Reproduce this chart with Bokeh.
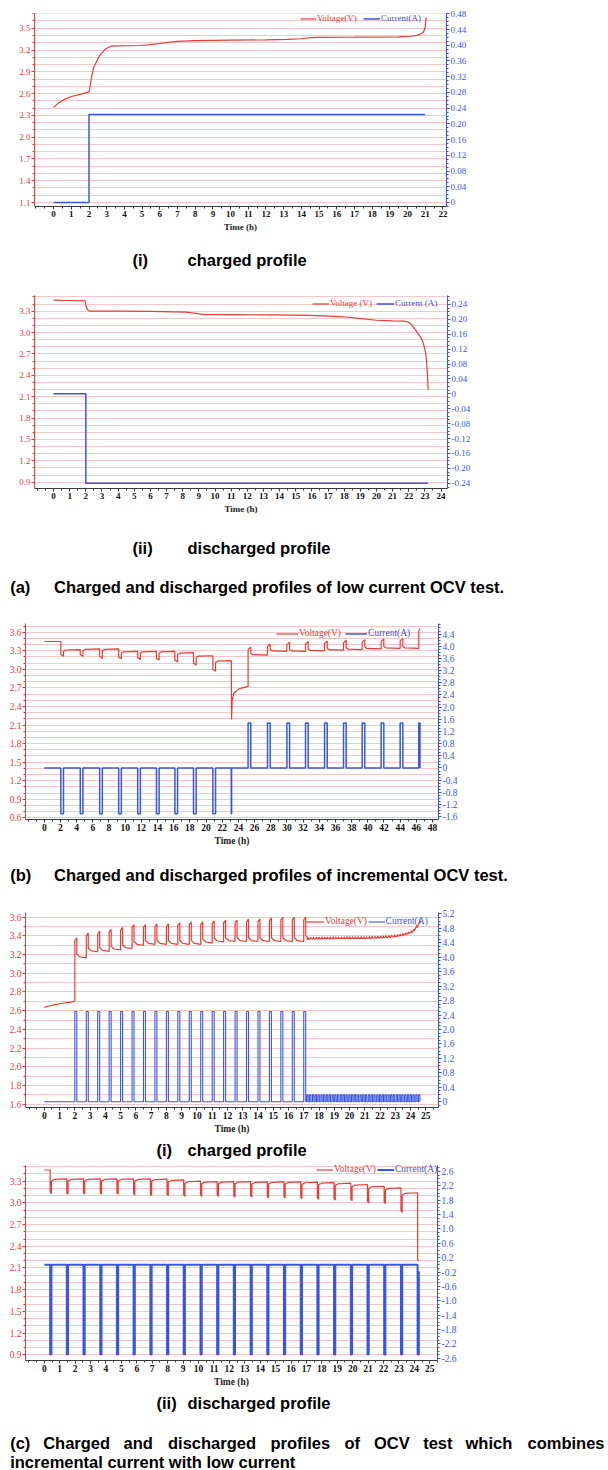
import numpy as np
from bokeh.plotting import figure
from bokeh.models import (Range1d, LinearAxis, FixedTicker, CustomJSTickFormatter,
                          Legend, LegendItem)
from bokeh.layouts import column
from bokeh.core.properties import value
from bokeh.embed import file_html
from bokeh.resources import INLINE

RED = "#e63c38"
BLUE = "#3a55e4"
GRID = "#f4c8c8"
SERIF = "Liberation Serif"
SANS = "Liberation Sans"

# ======================= DATA =======================
# (a)(i) low current OCV test - charge
a1_volt_t = [0.0, 0.3, 0.6, 1.0, 1.5, 2.0, 2.04, 2.1, 2.26, 2.59, 2.91, 3.24, 3.6, 4.9, 5.5,
             6.0, 6.5, 7.0, 8.0, 10.0, 12.0, 13.2, 14.0, 14.5, 15.0, 17.0, 19.5, 20.2, 20.6,
             20.9, 21.0, 21.05]
a1_volt = [2.41, 2.475, 2.52, 2.56, 2.59, 2.623, 2.66, 2.77, 2.96, 3.12, 3.21, 3.255, 3.258,
           3.262, 3.275, 3.29, 3.305, 3.32, 3.33, 3.335, 3.34, 3.348, 3.355, 3.372, 3.375,
           3.378, 3.382, 3.39, 3.405, 3.445, 3.52, 3.65]
a1_cur_t = [0.0, 2.0, 2.0, 21.0]
a1_cur = [0.0, 0.0, 0.224, 0.224]
a1_x_ticks = list(range(0, 23))
a1_v_ticks = [1.1, 1.4, 1.7, 2.0, 2.3, 2.6, 2.9, 3.2, 3.5]
a1_i_ticks = [0, 0.04, 0.08, 0.12, 0.16, 0.20, 0.24, 0.28, 0.32, 0.36, 0.40, 0.44, 0.48]

# (a)(ii) low current OCV test - discharge
a2_volt_t = [0.0, 1.0, 1.95, 2.04, 2.15, 2.28, 4.0, 6.0, 8.2, 8.8, 9.2, 11.1, 13.5, 15.9,
             17.4, 18.3, 19.05, 20.0, 21.0, 21.7, 22.0, 22.2, 22.5, 22.75, 22.9, 23.06,
             23.15, 23.2]
a2_volt = [3.455, 3.45, 3.445, 3.345, 3.31, 3.30, 3.30, 3.298, 3.286, 3.27, 3.255, 3.252,
           3.248, 3.24, 3.227, 3.215, 3.195, 3.173, 3.165, 3.16, 3.145, 3.105, 3.01, 2.93,
           2.855, 2.7, 2.45, 2.197]
a2_cur_t = [0.0, 2.0, 2.0, 23.2]
a2_cur = [0.0, 0.0, -0.24, -0.24]
a2_x_ticks = list(range(0, 25))
a2_v_ticks = [0.9, 1.2, 1.5, 1.8, 2.1, 2.4, 2.7, 3.0, 3.3]
a2_i_ticks = [-0.24, -0.20, -0.16, -0.12, -0.08, -0.04, 0, 0.04, 0.08, 0.12, 0.16, 0.20, 0.24]

# (b) incremental OCV test
b_v_start = 3.45
b_dis_start = [2.05, 4.45, 6.85, 9.2, 11.55, 13.87, 16.15, 18.45, 20.85]
b_dis_end = [2.38, 4.78, 7.18, 9.53, 11.88, 14.2, 16.48, 18.78, 21.18]
b_dis_min = [3.21, 3.21, 3.18, 3.17, 3.16, 3.15, 3.12, 3.07, 2.97]
b_dis_rest = [3.32, 3.33, 3.33, 3.29, 3.29, 3.29, 3.27, 3.22, 3.14]
b_cut_t = [23.12, 23.16, 23.23, 23.43, 24.05, 25.08, 25.2]
b_cut_v = [3.14, 2.19, 2.5, 2.61, 2.685, 2.72, 2.72]
b_cut_pulse = [23.12, 23.16]
b_chg_start = [25.2, 27.6, 30.0, 32.3, 34.65, 37.0, 39.3, 41.65, 44.0, 46.3]
b_chg_end = [25.53, 27.93, 30.33, 32.63, 34.98, 37.33, 39.63, 41.98, 44.33, 46.45]
b_chg_peak = [3.36, 3.41, 3.44, 3.45, 3.46, 3.47, 3.48, 3.49, 3.50, 3.66]
b_chg_rest = [3.23, 3.29, 3.29, 3.30, 3.31, 3.32, 3.33, 3.34, 3.34]
b_dis_current = -1.5
b_chg_current = 1.48
b_x_ticks = list(range(0, 49, 2))
b_v_ticks = [0.6, 0.9, 1.2, 1.5, 1.8, 2.1, 2.4, 2.7, 3.0, 3.3, 3.6]
b_i_ticks = [-1.6, -1.2, -0.8, -0.4, 0, 0.4, 0.8, 1.2, 1.6, 2.0, 2.4, 2.8, 3.2, 3.6, 4.0, 4.4]

# (c)(i) combined OCV test - charge
c1_pre_t = [0.0, 0.3, 0.7, 1.2, 1.6, 2.0]
c1_pre_v = [2.635, 2.65, 2.665, 2.68, 2.69, 2.70]
c1_hi_start = [2.0, 2.75, 3.5, 4.25, 5.0, 5.75, 6.5, 7.25, 8.0, 8.75, 9.5, 10.25, 11.0,
               11.75, 12.5, 13.25, 14.0, 14.75, 15.5, 16.25, 17.0]
c1_hi_width = 0.13
c1_hi_peak = [3.38, 3.43, 3.45, 3.47, 3.49, 3.52, 3.52, 3.53, 3.53, 3.54, 3.55, 3.55, 3.56,
              3.57, 3.57, 3.58, 3.58, 3.59, 3.60, 3.60, 3.60]
c1_hi_rest = [3.165, 3.23, 3.235, 3.25, 3.265, 3.30, 3.31, 3.31, 3.31, 3.31, 3.31, 3.325,
              3.335, 3.34, 3.34, 3.34, 3.34, 3.34, 3.34, 3.34, 3.36]
c1_hi_current = 2.5
c1_lo_start = [17.2, 17.38, 17.57, 17.75, 17.93, 18.12, 18.3, 18.48, 18.66, 18.85, 19.03,
               19.21, 19.4, 19.58, 19.76, 19.95, 20.13, 20.31, 20.49, 20.68, 20.86, 21.04,
               21.23, 21.41, 21.59, 21.78, 21.96, 22.14, 22.32, 22.51, 22.69, 22.87, 23.06,
               23.24, 23.42, 23.61, 23.79, 23.97, 24.15, 24.34, 24.52]
c1_lo_v = [3.362, 3.364, 3.365, 3.366, 3.366, 3.367, 3.367, 3.368, 3.368, 3.368, 3.369,
           3.369, 3.369, 3.369, 3.37, 3.37, 3.37, 3.37, 3.37, 3.37, 3.37, 3.371, 3.372,
           3.373, 3.374, 3.375, 3.376, 3.378, 3.38, 3.382, 3.385, 3.388, 3.392, 3.397,
           3.403, 3.41, 3.42, 3.432, 3.45, 3.485, 3.53]
c1_lo_width = 0.09
c1_lo_tooth = 0.022
c1_lo_current = 0.19
c1_end = [24.58, 3.58]
c1_x_ticks = list(range(0, 26))
c1_v_ticks = [1.6, 1.8, 2.0, 2.2, 2.4, 2.6, 2.8, 3.0, 3.2, 3.4, 3.6]
c1_i_ticks = [0, 0.4, 0.8, 1.2, 1.6, 2.0, 2.4, 2.8, 3.2, 3.6, 4.0, 4.4, 4.8, 5.2]

# (c)(ii) combined OCV test - discharge
c2_v_start = 3.455
c2_start = [0.38, 1.46, 2.54, 3.63, 4.71, 5.79, 6.88, 7.96, 9.04, 10.13, 11.21, 12.29,
            13.38, 14.46, 15.54, 16.63, 17.71, 18.79, 19.88, 20.96, 22.04, 23.13, 24.21]
c2_width = 0.08
c2_min = [3.13, 3.12, 3.12, 3.12, 3.12, 3.11, 3.10, 3.10, 3.09, 3.09, 3.09, 3.08, 3.08,
          3.07, 3.07, 3.06, 3.05, 3.04, 3.03, 3.00, 2.99, 2.87, 2.20]
c2_rest = [3.332, 3.332, 3.332, 3.332, 3.332, 3.332, 3.33, 3.318, 3.30, 3.295, 3.295, 3.295,
           3.29, 3.29, 3.29, 3.286, 3.28, 3.272, 3.254, 3.23, 3.208, 3.14]
c2_current = -2.5
c2_end_current = -0.2
c2_x_ticks = list(range(0, 26))
c2_v_ticks = [0.9, 1.2, 1.5, 1.8, 2.1, 2.4, 2.7, 3.0, 3.3]
c2_i_ticks = [-2.6, -2.2, -1.8, -1.4, -1.0, -0.6, -0.2, 0.2, 0.6, 1.0, 1.4, 1.8, 2.2, 2.6]

# captions
cap_a1 = ["(i)", "charged profile"]
cap_a2 = ["(ii)", "discharged profile"]
cap_a = ["(a)", "Charged and discharged profiles of low current OCV test."]
cap_b = ["(b)", "Charged and discharged profiles of incremental OCV test."]
cap_c1 = ["(i)", "charged profile"]
cap_c2 = ["(ii)", "discharged profile"]
cap_c_line1 = ["(c)", "Charged", "and", "discharged", "profiles", "of", "OCV", "test",
               "which", "combines"]
cap_c_line2 = "incremental current with low current"


# ======================= helpers =======================
def pulse_path(t0, v0, starts, ends, extremes, rests, sign, jin, jout, relax):
    t, v = ([t0], [v0]) if t0 is not None else ([], [])
    prev = v0
    for k in range(len(starts)):
        t += [starts[k], starts[k], ends[k]]
        v += [prev, extremes[k] - sign * jin, extremes[k]]
        if k < len(rests):
            t += [ends[k], ends[k] + relax]
            v += [rests[k] + sign * jout, rests[k] + sign * jout * 0.25]
            prev = rests[k]
    return t, v


def rect_path(starts, ends, level):
    t, i = [], []
    for s, e in zip(starts, ends):
        t += [s, s, e, e]
        i += [0.0, level, level, 0.0]
    return t, i


def minors(lo, hi, step):
    k0 = int(np.ceil(lo / step - 1e-9))
    k1 = int(np.floor(hi / step + 1e-9))
    return [round(k * step, 6) for k in range(k0, k1 + 1)]


def style_axis(ax, color, label_color, fs, bold=False):
    ax.axis_line_color = color
    ax.major_tick_line_color = color
    ax.minor_tick_line_color = color
    ax.major_label_text_color = label_color
    ax.major_label_text_font = SERIF
    ax.major_label_text_font_size = fs
    ax.major_label_text_font_style = "bold" if bold else "normal"
    ax.major_tick_out = 3
    ax.major_tick_in = 0
    ax.minor_tick_out = 2
    ax.minor_tick_in = 0
    ax.major_label_standoff = 1


def add_leg(p, r, label, color, x, y, gw, fs):
    leg = Legend(items=[LegendItem(label=label, renderers=[r])], location=(x, y),
                 orientation="horizontal", padding=0, margin=0, spacing=0,
                 glyph_width=gw, glyph_height=11, label_height=11, label_width=10,
                 label_standoff=1, border_line_color=None, background_fill_alpha=0,
                 label_text_font=SERIF, label_text_font_size=fs, label_text_color=color,
                 label_text_baseline="middle")
    p.add_layout(leg)


def chart(h, L, fw, T, B, xr, vr, ir, xt, xstep, vt, vstep, it, istep, idec,
          vt_x, vt_y, it_x, it_y, legs, fs, cur_lw=1.5):
    p = figure(width=608, height=h, x_range=Range1d(*xr), y_range=Range1d(*vr),
               output_backend="svg", toolbar_location=None, title=None,
               min_border_left=L, min_border_right=608 - L - fw,
               min_border_top=T, min_border_bottom=B, outline_line_color=None)
    p.frame_align = False
    p.extra_y_ranges = {"cur": Range1d(*ir)}
    rv = p.line(vt_x, vt_y, line_color=RED, line_width=1.2)
    ri = p.line(it_x, it_y, line_color=BLUE, line_width=cur_lw, y_range_name="cur")

    # x axis
    xa = p.below[0]
    xa.ticker = FixedTicker(ticks=xt, minor_ticks=minors(xr[0], xr[1], xstep))
    xa.formatter = CustomJSTickFormatter(code="return tick.toFixed(0);")
    style_axis(xa, "#3a3a3a", "#111111", fs, bold=True)
    xa.axis_label = "Time (h)"
    xa.axis_label_text_font = SERIF
    xa.axis_label_text_font_size = fs
    xa.axis_label_text_font_style = "bold"
    xa.axis_label_text_color = "#222222"
    xa.axis_label_standoff = 2

    # left axis
    ya = p.left[0]
    vtk = FixedTicker(ticks=vt, minor_ticks=minors(vr[0], vr[1], vstep))
    ya.ticker = vtk
    ya.formatter = CustomJSTickFormatter(code="return tick.toFixed(1);")
    style_axis(ya, RED, RED, fs)

    # right axis
    ra = LinearAxis(y_range_name="cur")
    ra.ticker = FixedTicker(ticks=it, minor_ticks=minors(ir[0], ir[1], istep))
    ra.formatter = CustomJSTickFormatter(
        code="return Math.abs(tick) < 1e-9 ? '0' : tick.toFixed(%d);" % idec)
    style_axis(ra, BLUE, BLUE, fs)
    p.add_layout(ra, "right")

    # grid
    p.xgrid.visible = False
    p.ygrid.ticker = vtk
    p.ygrid.grid_line_color = GRID
    p.ygrid.minor_grid_line_color = GRID
    p.ygrid.grid_line_width = 1
    p.ygrid.minor_grid_line_width = 1

    (vl, vx, vy, vgw), (il, ix, iy, igw) = legs
    add_leg(p, rv, vl, RED, vx, vy, vgw, fs)
    add_leg(p, ri, il, BLUE, ix, iy, igw, fs)
    return p


def caption(h, items):
    p = figure(width=608, height=h, x_range=Range1d(0, 608), y_range=Range1d(h, 0),
               min_border=0, min_border_left=0, min_border_right=0, min_border_top=0,
               min_border_bottom=0, x_axis_type=None, y_axis_type=None,
               output_backend="svg", toolbar_location=None, outline_line_color=None,
               title=None)
    p.frame_align = False
    xs = [it[0] for it in items]
    ys = [it[1] for it in items]
    ts = [it[2] for it in items]
    p.text(x=xs, y=ys, text=ts, text_font=value(SANS), text_font_style="bold",
           text_font_size="16.5px", text_baseline="middle", text_align="left",
           text_color="#000000")
    return p


# ======================= build series =======================
# (b)
b_vt, b_vv = pulse_path(0.0, b_v_start, b_dis_start, b_dis_end, b_dis_min, b_dis_rest,
                        -1, 0.03, 0.03, 0.25)
b_vt += b_cut_t
b_vv += b_cut_v
t2, v2 = pulse_path(None, b_cut_v[-1], b_chg_start, b_chg_end, b_chg_peak, b_chg_rest,
                    1, 0.04, 0.03, 0.25)
b_vt += t2
b_vv += v2
b_it, b_ii = [0.0], [0.0]
t_, i_ = rect_path(b_dis_start + [b_cut_pulse[0]], b_dis_end + [b_cut_pulse[1]], b_dis_current)
b_it += t_
b_ii += i_
t_, i_ = rect_path(b_chg_start, b_chg_end, b_chg_current)
b_it += t_
b_ii += i_

# (c)(i)
c1_hi_end = [s + c1_hi_width for s in c1_hi_start]
c1_vt, c1_vv = list(c1_pre_t), list(c1_pre_v)
t_, v_ = pulse_path(None, c1_pre_v[-1], c1_hi_start, c1_hi_end, c1_hi_peak, c1_hi_rest,
                    1, 0.03, 0.04, 0.2)
c1_vt += t_
c1_vv += v_
for s, base in zip(c1_lo_start, c1_lo_v):
    c1_vt += [s, s + c1_lo_width, s + c1_lo_width + 0.01]
    c1_vv += [base, base + c1_lo_tooth, base + 0.004]
c1_vt.append(c1_end[0])
c1_vv.append(c1_end[1])
c1_lo_end = [s + c1_lo_width for s in c1_lo_start]
c1_it, c1_ii = [0.0], [0.0]
t_, i_ = rect_path(c1_hi_start, c1_hi_end, c1_hi_current)
c1_it += t_
c1_ii += i_
t_, i_ = rect_path(c1_lo_start, c1_lo_end, c1_lo_current)
c1_it += t_
c1_ii += i_

# (c)(ii)
c2_end = [s + c2_width for s in c2_start]
c2_vt, c2_vv = pulse_path(0.0, c2_v_start, c2_start, c2_end, c2_min, c2_rest,
                          -1, 0.02, 0.03, 0.2)
c2_it, c2_ii = [0.0], [0.0]
t_, i_ = rect_path(c2_start, c2_end, c2_current)
c2_it += t_
c2_ii += i_
c2_ii[-1] = c2_end_current
c2_it.append(c2_end[-1] + 0.04)
c2_ii.append(c2_end_current)

# ======================= figures =======================
p1 = chart(240, 34, 412, 13, 34, (-1.08, 22.2), (1.045, 3.703), (-0.0102, 0.4808),
           a1_x_ticks, 0.5, a1_v_ticks, 0.1, a1_i_ticks, 0.01, 2,
           a1_volt_t, a1_volt, a1_cur_t, a1_cur,
           (("Voltage(V)", 266, 182.2, 16), ("Current(A)", 329, 182.2, 17)), "9px")
k1 = caption(42, [(132, 19.3, cap_a1[0]), (187, 19.3, cap_a1[1])])

p2 = chart(240, 34, 413, 13, 34, (-1.18, 24.4), (0.812, 3.52), (-0.254, 0.264),
           a2_x_ticks, 0.5, a2_v_ticks, 0.1, a2_i_ticks, 0.01, 2,
           a2_volt_t, a2_volt, a2_cur_t, a2_cur,
           (("Voltage (V)", 278, 179.5, 17), ("Current (A)", 342, 179.5, 18)), "9px")
k2 = caption(80, [(132, 25.3, cap_a2[0]), (187, 25.3, cap_a2[1]),
                  (9.7, 64.7, cap_a[0]), (53.5, 64.7, cap_a[1])])

p3 = chart(250, 25, 413, 21, 33, (-2.32, 48.74), (0.573, 3.741), (-1.692, 4.747),
           b_x_ticks, 1.0, b_v_ticks, 0.1, b_i_ticks, 0.1, 1,
           b_vt, b_vv, b_it, b_ii,
           (("Voltage(V)", 251, 180.2, 22), ("Current(A)", 320, 180.2, 22)), "9.5px")
k3 = caption(40, [(9.7, 22.5, cap_b[0]), (53.5, 22.5, cap_b[1])])

p4 = chart(246, 25, 413, 20, 31, (-1.232, 25.83), (1.565, 3.650), (-0.158, 5.237),
           c1_x_ticks, 0.5, c1_v_ticks, 0.1, c1_i_ticks, 0.1, 1,
           c1_vt, c1_vv, c1_it, c1_ii,
           (("Voltage(V)", 281, 180.5, 18), ("Current(A)", 342.6, 180.5, 17)), "9.5px",
           cur_lw=1.1)
k4 = caption(22, [(156, 11.3, cap_c1[0]), (187, 11.3, cap_c1[1])])

p5 = chart(234, 25, 412, 5, 34, (-1.219, 25.5), (0.821, 3.517), (-2.664, 2.767),
           c2_x_ticks, 0.5, c2_v_ticks, 0.1, c2_i_ticks, 0.1, 1,
           c2_vt, c2_vv, c2_it, c2_ii,
           (("Voltage(V)", 291, 185.2, 17), ("Current(A)", 352, 185.2, 17)), "9.5px",
           cur_lw=2.0)
word_x = [9.7, 42.7, 123, 167.5, 270, 344, 373.5, 422.7, 465, 527]
items5 = [(156, 8.7, cap_c2[0]), (187, 8.7, cap_c2[1])]
items5 += [(x, 48.7, w) for x, w in zip(word_x, cap_c_line1)]
items5 += [(9.7, 67.7, cap_c_line2)]
k5 = caption(76, items5)

layout = column(p1, k1, p2, k2, p3, k3, p4, k4, p5, k5, spacing=0)
open("out.html", "w").write(file_html(layout, INLINE))
